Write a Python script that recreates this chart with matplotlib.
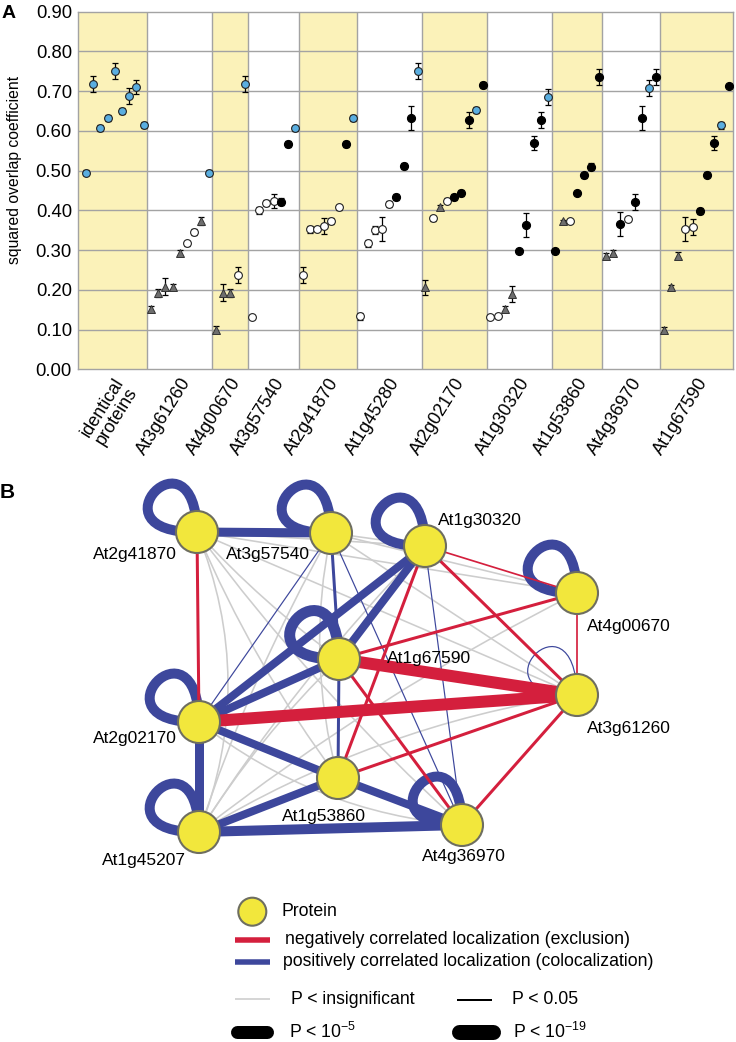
import matplotlib
matplotlib.use('Agg')
import matplotlib.pyplot as plt
import numpy as np
from matplotlib.patches import Circle, FancyArrowPatch, PathPatch
from matplotlib.path import Path

plt.rcParams['font.family'] = ['Liberation Sans', 'DejaVu Sans']
plt.rcParams['mathtext.fontset'] = 'custom'
plt.rcParams['mathtext.rm'] = 'Liberation Sans'
plt.rcParams['mathtext.it'] = 'Liberation Sans:italic'
plt.rcParams['mathtext.default'] = 'regular'

# ---------------- Panel A data ----------------
groups = ['identical\nproteins', 'At3g61260', 'At4g00670', 'At3g57540', 'At2g41870',
          'At1g45280', 'At2g02170', 'At1g30320', 'At1g53860', 'At4g36970', 'At1g67590']
shaded = [True, False, True, False, True, False, True, False, True, False, True]

# b = blue circle, o = open circle, k = black circle, t = grey triangle
vals_identical = [0.495, 0.718, 0.608, 0.632, 0.750, 0.650, 0.687, 0.710, 0.615]
kind_identical = ['b', 'b', 'b', 'b', 'b', 'b', 'b', 'b', 'b']
err_identical = [0.006, 0.020, 0.008, 0.008, 0.020, 0.008, 0.020, 0.018, 0.008]

vals_At3g61260 = [0.152, 0.193, 0.208, 0.207, 0.293, 0.317, 0.346, 0.373, 0.495]
kind_At3g61260 = ['t', 't', 't', 't', 't', 'o', 'o', 't', 'b']
err_At3g61260 = [0.008, 0.010, 0.022, 0.008, 0.008, 0.006, 0.008, 0.010, 0.006]

vals_At4g00670 = [0.100, 0.193, 0.192, 0.237, 0.718]
kind_At4g00670 = ['t', 't', 't', 'o', 'b']
err_At4g00670 = [0.008, 0.022, 0.010, 0.020, 0.020]

vals_At3g57540 = [0.132, 0.400, 0.418, 0.424, 0.422, 0.567, 0.607]
kind_At3g57540 = ['o', 'o', 'o', 'o', 'k', 'k', 'b']
err_At3g57540 = [0.004, 0.008, 0.008, 0.018, 0.008, 0.008, 0.006]

vals_At2g41870 = [0.238, 0.352, 0.352, 0.360, 0.373, 0.408, 0.567, 0.632]
kind_At2g41870 = ['o', 'o', 'o', 'o', 'o', 'o', 'k', 'b']
err_At2g41870 = [0.020, 0.008, 0.005, 0.020, 0.008, 0.006, 0.008, 0.008]

vals_At1g45280 = [0.133, 0.317, 0.350, 0.353, 0.416, 0.433, 0.511, 0.632, 0.750]
kind_At1g45280 = ['o', 'o', 'o', 'o', 'o', 'k', 'k', 'k', 'b']
err_At1g45280 = [0.008, 0.008, 0.010, 0.030, 0.008, 0.008, 0.008, 0.030, 0.020]

vals_At2g02170 = [0.206, 0.380, 0.408, 0.424, 0.433, 0.444, 0.627, 0.652, 0.715]
kind_At2g02170 = ['t', 'o', 't', 'o', 'k', 'k', 'k', 'b', 'k']
err_At2g02170 = [0.020, 0.006, 0.006, 0.006, 0.008, 0.008, 0.020, 0.008, 0.008]

vals_At1g30320 = [0.132, 0.133, 0.152, 0.190, 0.298, 0.364, 0.570, 0.627, 0.685]
kind_At1g30320 = ['o', 'o', 't', 't', 'k', 'k', 'k', 'k', 'b']
err_At1g30320 = [0.004, 0.005, 0.008, 0.020, 0.006, 0.030, 0.018, 0.020, 0.020]

vals_At1g53860 = [0.298, 0.372, 0.372, 0.444, 0.488, 0.510, 0.735]
kind_At1g53860 = ['k', 't', 'o', 'k', 'k', 'k', 'k']
err_At1g53860 = [0.006, 0.005, 0.005, 0.006, 0.006, 0.008, 0.020]

vals_At4g36970 = [0.285, 0.293, 0.365, 0.378, 0.420, 0.632, 0.708, 0.735]
kind_At4g36970 = ['t', 't', 'k', 'o', 'k', 'k', 'b', 'k']
err_At4g36970 = [0.008, 0.006, 0.030, 0.005, 0.020, 0.030, 0.020, 0.020]

vals_At1g67590 = [0.100, 0.206, 0.286, 0.353, 0.358, 0.398, 0.490, 0.570, 0.614, 0.714]
kind_At1g67590 = ['t', 't', 't', 'o', 'o', 'k', 'k', 'k', 'b', 'k']
err_At1g67590 = [0.006, 0.006, 0.008, 0.030, 0.020, 0.008, 0.006, 0.018, 0.008, 0.004]

group_vals = [vals_identical, vals_At3g61260, vals_At4g00670, vals_At3g57540, vals_At2g41870,
              vals_At1g45280, vals_At2g02170, vals_At1g30320, vals_At1g53860, vals_At4g36970,
              vals_At1g67590]
group_kind = [kind_identical, kind_At3g61260, kind_At4g00670, kind_At3g57540, kind_At2g41870,
              kind_At1g45280, kind_At2g02170, kind_At1g30320, kind_At1g53860, kind_At4g36970,
              kind_At1g67590]
group_err = [err_identical, err_At3g61260, err_At4g00670, err_At3g57540, err_At2g41870,
             err_At1g45280, err_At2g02170, err_At1g30320, err_At1g53860, err_At4g36970,
             err_At1g67590]

yticks = [0.0, 0.1, 0.2, 0.3, 0.4, 0.5, 0.6, 0.7, 0.8, 0.9]

# ---------------- Panel B data ----------------
nodes = ['At2g41870', 'At3g57540', 'At1g30320', 'At4g00670', 'At1g67590',
         'At3g61260', 'At2g02170', 'At1g53860', 'At1g45207', 'At4g36970']
node_x = [197, 331, 425, 577, 339, 577, 199, 338, 199, 462]
node_y = [532, 533, 546, 593, 659, 695, 722, 778, 832, 825]
label_x = [93, 226, 438, 587, 387, 587, 93, 282, 102, 422]
label_y = [555, 555, 521, 626, 658, 729, 739, 816, 860, 856]

# (node a, node b, sign, width in px)
pos_edges = [('At2g41870', 'At3g57540', 9), ('At2g02170', 'At1g30320', 8),
             ('At2g02170', 'At1g67590', 8), ('At1g67590', 'At1g30320', 8),
             ('At2g02170', 'At1g45207', 9), ('At2g02170', 'At1g53860', 8),
             ('At1g45207', 'At4g36970', 10), ('At1g45207', 'At1g53860', 8),
             ('At1g53860', 'At4g36970', 8), ('At3g57540', 'At1g67590', 3),
             ('At1g67590', 'At1g53860', 3), ('At3g57540', 'At2g02170', 1.2),
             ('At3g57540', 'At4g36970', 1.2), ('At1g30320', 'At4g36970', 1.2)]
neg_edges = [('At2g41870', 'At2g02170', 3), ('At2g02170', 'At3g61260', 12),
             ('At1g67590', 'At3g61260', 12), ('At1g30320', 'At3g61260', 3),
             ('At1g30320', 'At4g00670', 1.7), ('At4g00670', 'At3g61260', 1.7),
             ('At1g67590', 'At4g00670', 3), ('At1g30320', 'At1g53860', 3),
             ('At1g67590', 'At4g36970', 3), ('At1g53860', 'At3g61260', 3),
             ('At3g61260', 'At4g36970', 3)]
gray_edges = [('At2g41870', 'At1g30320', 0.0), ('At2g41870', 'At4g00670', 0.0),
              ('At2g41870', 'At1g67590', 0.05), ('At2g41870', 'At3g61260', 0.0),
              ('At2g41870', 'At1g53860', 0.06), ('At2g41870', 'At1g45207', -0.2),
              ('At2g41870', 'At4g36970', 0.05), ('At3g57540', 'At1g30320', 0.0),
              ('At3g57540', 'At4g00670', 0.0), ('At3g57540', 'At3g61260', 0.0),
              ('At3g57540', 'At1g53860', 0.12), ('At3g57540', 'At1g45207', 0.05),
              ('At1g30320', 'At1g45207', 0.05), ('At1g67590', 'At1g45207', 0.06),
              ('At3g61260', 'At1g45207', 0.1), ('At2g02170', 'At4g36970', 0.15),
              ('At4g00670', 'At1g45207', 0.05)]
loops = [('At2g41870', 'pos', 10), ('At3g57540', 'pos', 10), ('At1g30320', 'pos', 10),
         ('At4g00670', 'pos', 10), ('At1g67590', 'pos', 11), ('At2g02170', 'pos', 10),
         ('At1g45207', 'pos', 10), ('At4g36970', 'pos', 10), ('At3g61260', 'pos', 1.2)]

# ---------------- styles ----------------
W, H = 736, 1042
PX = 0.72  # points per pixel at 100 dpi
YELLOW_BAND = '#FBF2B9'
GRID = '#A3A3A3'
BLUE_PT = '#5AAEE0'
TRI = '#6E6E6E'
NET_BLUE = '#3D479C'
NET_RED = '#D41F3D'
NET_GRAY = '#CDCDCD'
NODE_FILL = '#F2E73C'
NODE_EDGE = '#6E6E60'

fig = plt.figure(figsize=(W / 100, H / 100), dpi=100)
fig.patch.set_facecolor('white')

# ---------------- Panel A ----------------
left, right, top, bottom = 78.3, 733.0, 11.7, 369.3
axA = fig.add_axes([left / W, 1 - bottom / H, (right - left) / W, (bottom - top) / H])
xmin, xmax = -0.05, 90.6
axA.set_xlim(xmin, xmax)
axA.set_ylim(0, 0.9)

pos = 1
edges_b = [xmin]
centers = []
mstyle = {
    'b': dict(marker='o', mfc=BLUE_PT, mec='#222222', ms=5.6, mew=0.8),
    'o': dict(marker='o', mfc='white', mec='#222222', ms=5.6, mew=0.8),
    'k': dict(marker='o', mfc='black', mec='black', ms=5.8, mew=0.8),
    't': dict(marker='^', mfc=TRI, mec='#333333', ms=6.3, mew=0.7),
}
for gi, (vals, kinds, errs) in enumerate(zip(group_vals, group_kind, group_err)):
    xs = np.arange(pos, pos + len(vals))
    for xv, yv, kv, ev in zip(xs, vals, kinds, errs):
        axA.errorbar([xv], [yv], yerr=[ev], fmt='none', ecolor='black',
                     elinewidth=0.9, capsize=2.3, capthick=0.9, zorder=3)
        axA.plot([xv], [yv], linestyle='none', zorder=4, **mstyle[kv])
    pos += len(vals)
    hi = pos - 0.5 if gi < len(group_vals) - 1 else xmax
    lo = edges_b[-1]
    if shaded[gi]:
        axA.axvspan(lo, hi, color=YELLOW_BAND, zorder=0, lw=0)
    centers.append((lo + hi) / 2)
    edges_b.append(hi)

for xb in edges_b[1:-1]:
    axA.axvline(xb, color=GRID, lw=1.0, zorder=1)
for yv in yticks[1:-1]:
    axA.axhline(yv, color=GRID, lw=1.0, zorder=1)
for s in axA.spines.values():
    s.set_color(GRID)
    s.set_linewidth(1.0)

axA.set_yticks(yticks)
axA.set_yticklabels(['%.2f' % v for v in yticks], fontsize=13.3)
axA.tick_params(axis='y', length=0, pad=4.6)
axA.set_xticks(centers)
axA.set_xticklabels(groups, rotation=58, ha='right', va='top', rotation_mode='anchor',
                    fontsize=13, multialignment='center', linespacing=1.0)
axA.tick_params(axis='x', length=0, pad=4)
axA.set_ylabel('squared overlap coefficient', fontsize=11.3)
axA.yaxis.set_label_coords(-0.086, 0.557)
fig.text(2 / W, 1 - 13 / H, 'A', fontsize=14, fontweight='bold', va='center', ha='left')

# ---------------- Panel B ----------------
axB = fig.add_axes([0, 0, 1, (H - 470) / H])
axB.set_xlim(0, W)
axB.set_ylim(H, 470)
axB.axis('off')
P = {n: (x, y) for n, x, y in zip(nodes, node_x, node_y)}

for a, b, rad in gray_edges:
    pa = FancyArrowPatch(P[a], P[b], connectionstyle='arc3,rad=%g' % rad, arrowstyle='-',
                         color=NET_GRAY, lw=1.6 * PX, shrinkA=0, shrinkB=0, zorder=1)
    axB.add_patch(pa)

for n, sign, wpx in loops:
    cx, cy = P[n]
    d = 110
    verts = [(cx, cy), (cx - d, cy + 2), (cx - 2, cy - d), (cx, cy)]
    path = Path(verts, [Path.MOVETO, Path.CURVE4, Path.CURVE4, Path.CURVE4])
    axB.add_patch(PathPatch(path, fc='none', ec=NET_BLUE if sign == 'pos' else NET_RED,
                            lw=wpx * PX, zorder=2))

for a, b, wpx in pos_edges:
    axB.plot([P[a][0], P[b][0]], [P[a][1], P[b][1]], color=NET_BLUE, lw=wpx * PX,
             solid_capstyle='butt', zorder=2)
for a, b, wpx in neg_edges:
    axB.plot([P[a][0], P[b][0]], [P[a][1], P[b][1]], color=NET_RED, lw=wpx * PX,
             solid_capstyle='butt', zorder=3)

for n, lx, ly in zip(nodes, label_x, label_y):
    axB.add_patch(Circle(P[n], 21, fc=NODE_FILL, ec=NODE_EDGE, lw=1.5, zorder=5))
for n, lx, ly in zip(nodes, label_x, label_y):
    axB.text(lx, ly, n, fontsize=12.5, ha='left', va='center', zorder=6)

axB.text(0, 492, 'B', fontsize=15, fontweight='bold', ha='left', va='center')

# legend
axB.add_patch(Circle((252.3, 911.7), 14, fc=NODE_FILL, ec=NODE_EDGE, lw=1.5, zorder=5))
axB.text(281.7, 911.7, 'Protein', fontsize=12.7, va='center', ha='left')
axB.plot([235, 270], [940, 940], color=NET_RED, lw=5.5 * PX, solid_capstyle='butt')
axB.text(285, 940, 'negatively correlated localization (exclusion)', fontsize=12.7,
         va='center', ha='left')
axB.plot([235, 270], [961.7, 961.7], color=NET_BLUE, lw=5.5 * PX, solid_capstyle='butt')
axB.text(283.3, 961.7, 'positively correlated localization (colocalization)', fontsize=12.7,
         va='center', ha='left')
axB.plot([235, 270], [999, 999], color=NET_GRAY, lw=1.6 * PX, solid_capstyle='butt')
axB.text(290.7, 999, 'P < insignificant', fontsize=12.7, va='center', ha='left')
axB.plot([456.7, 491.7], [1000, 1000], color='black', lw=2 * PX, solid_capstyle='butt')
axB.text(511.7, 1000, 'P < 0.05', fontsize=12.7, va='center', ha='left')
axB.plot([236.5, 266.5], [1031.7, 1031.7], color='black', lw=13 * PX, solid_capstyle='round')
axB.text(289, 1031.7, r'P < 10$^{-5}$', fontsize=12.7, va='center', ha='left')
axB.plot([459, 492.5], [1031.7, 1031.7], color='black', lw=15 * PX, solid_capstyle='round')
axB.text(513, 1031.7, r'P < 10$^{-19}$', fontsize=12.7, va='center', ha='left')

fig.savefig('out.png', dpi=100, facecolor='white')
